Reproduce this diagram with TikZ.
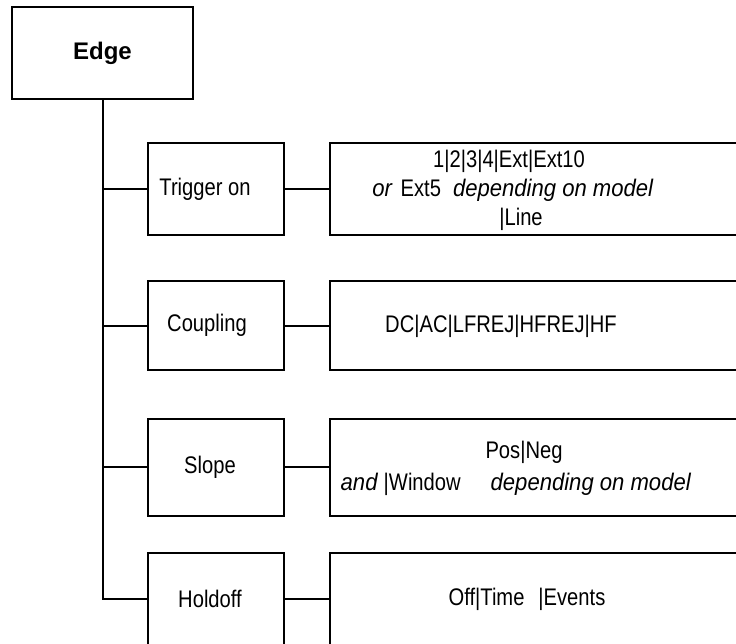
\documentclass[tikz,border=0pt]{standalone}
\usepackage{fontspec}
\setmainfont{Liberation Sans}
\newfontfamily\narrowsf[FakeStretch=0.84,ItalicFeatures={FakeStretch=0.92}]{Liberation Sans}

\begin{document}
\begin{tikzpicture}[x=1pt,y=-1pt,
  box/.style={draw,line width=2pt,inner sep=0pt},
  menu/.style={box,minimum width=136pt,minimum height=92pt},
  value/.style={box,minimum width=450pt,minimum height=92pt},
  link/.style={line width=2pt},
  txt/.style={font=\narrowsf\fontsize{24}{29}\selectfont,align=center,inner sep=0pt}]
  \clip (0,0) rectangle (736,643);
  % top of the menu tree
  \node[box,minimum width=181pt,minimum height=92pt,font=\bfseries\fontsize{24}{28}\selectfont] (edge) at (102.5,53) {Edge};
  % sub menus
  \node[menu] (trig) at (216,189) {};
  \node[menu,minimum height=89pt] (coup) at (216,325.5) {};
  \node[menu,minimum height=97pt] (slope) at (216,467) {};
  \node[menu] (hold) at (216,599) {};
  \node[txt] (trigtxt) at (205,189) {Trigger on};
  \node[txt] (couptxt) at (207,325.5) {Coupling};
  \node[txt] (slopetxt) at (210,467) {Slope};
  \node[txt] (holdtxt) at (210,599) {Holdoff};
  % choices, the boxes run off the right edge
  \node[value] (trigval) at (555,189) {};
  \node[value,minimum height=89pt] (coupval) at (555,325.5) {};
  \node[value,minimum height=97pt] (slopeval) at (555,467) {};
  \node[value] (holdval) at (555,599) {};
  \node[txt] (trigopt) at (513,190) {1|2|3|4|Ext|Ext10\hspace*{8pt}\\
    \textit{or}\hspace{8pt}Ext5\hspace{12pt}\textit{depending on model}\\
    \hspace*{16pt}|Line};
  \node[txt] (coupopt) at (501,326) {DC|AC|LFREJ|HFREJ|HF};
  \node[txt] (slopeopt) at (516,468) {\hspace*{16pt}Pos|Neg\\[3pt]
    \textit{and} |Window\hspace{30pt}\textit{depending on model}};
  \node[txt] (holdopt) at (527,599) {Off|Time\hspace{14pt}|Events};
  % tree lines
  \draw[link] (edge.south) |- (trig.west);
  \draw[link] (edge.south) |- (coup.west);
  \draw[link] (edge.south) |- (slope.west);
  \draw[link] (edge.south) |- (hold.west);
  \draw[link] (trig.east) -- (trigval.west);
  \draw[link] (coup.east) -- (coupval.west);
  \draw[link] (slope.east) -- (slopeval.west);
  \draw[link] (hold.east) -- (holdval.west);
\end{tikzpicture}
\end{document}
